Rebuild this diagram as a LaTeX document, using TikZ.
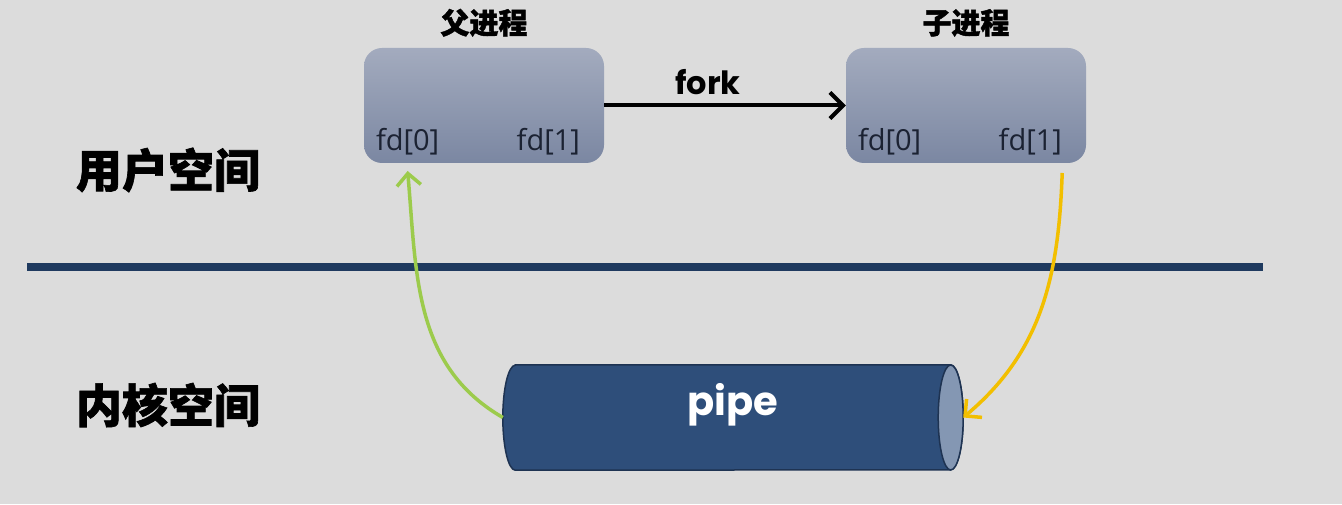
\documentclass[tikz,border=0pt]{standalone}
\usepackage{fontspec}
\setmainfont{Open Sans}
\newfontfamily\cjk{Noto Sans CJK SC}[BoldFeatures={FakeBold=1.4}]
\newfontfamily\popp{Poppins}
\usepackage{tikz}
\usetikzlibrary{arrows.meta,positioning}
\definecolor{bgc}{HTML}{DCDCDC}
\definecolor{boxtop}{HTML}{A3ABBE}
\definecolor{boxbot}{HTML}{7B87A2}
\definecolor{navy}{HTML}{1F3A5F}
\definecolor{pipec}{HTML}{2E4E7A}
\definecolor{pipedge}{HTML}{1E3352}
\definecolor{pipeend}{HTML}{8497B3}
\definecolor{greenc}{HTML}{9CCB4C}
\definecolor{yellc}{HTML}{F2BF00}
\definecolor{inkc}{HTML}{1B2232}
\tikzset{
  proc/.style={rounded corners=18pt,top color=boxtop,bottom color=boxbot,minimum width=240pt,minimum height=115pt},
  fd/.style={font=\fontsize{29}{32}\selectfont,text=inkc,inner sep=0pt},
  title/.style={font=\cjk\bfseries\fontsize{29}{32}\selectfont,inner sep=0pt},
  space/.style={font=\cjk\bfseries\fontsize{46}{50}\selectfont},
  ar/.style={-{Straight Barb[length=13pt,width=26pt]},line width=4pt},
  flow/.style={-{Straight Barb[length=12pt,width=24pt]},line width=3.5pt},
  pipecap/.style={x radius=12.5pt,y radius=52.5pt}
}
\begin{document}
\begin{tikzpicture}[x=1pt,y=1pt]
\useasboundingbox (0,0) rectangle (1342,504);
\fill[bgc] (0,0) rectangle (1342,504);
\node[proc] (par) at (484,398.5) {};
\node[proc] (chi) at (966,398.5) {};
\node[title,above=11pt of par] (parT) {父进程};
\node[title,above=11pt of chi] (chiT) {子进程};
\node[fd,anchor=base west] (p0) at ([shift={(12,13)}]par.south west) {fd[0]};
\node[fd,anchor=base east] (p1) at ([shift={(-24,13)}]par.south east) {fd[1]};
\node[fd,anchor=base west] (c0) at ([shift={(12,13)}]chi.south west) {fd[0]};
\node[fd,anchor=base east] (c1) at ([shift={(-24,13)}]chi.south east) {fd[1]};
\draw[ar] (par) -- (chi) node[midway,above=5pt,xshift=-17pt,font=\popp\bfseries\fontsize{32}{34}\selectfont] (forkL) {fork};
\draw[navy,line width=8pt] (27,237) -- (1263,237);
\node[space] (us) at (168,334) {用户空间};
\node[space] (ks) at (168,99) {内核空间};
\node[minimum width=460pt,minimum height=105pt,inner sep=0pt] (pipe) at (733,86.5) {};
\filldraw[fill=pipec,draw=pipedge,line width=1.5pt] ([xshift=12.5pt]pipe.north west) -- ([xshift=-12.5pt]pipe.north east)
  arc[start angle=90,end angle=-90,pipecap] -- ([xshift=12.5pt]pipe.south west) arc[start angle=270,end angle=90,pipecap] -- cycle;
\filldraw[fill=pipeend,draw=pipedge,line width=1.5pt] ([xshift=-12.5pt]pipe.east) ellipse[pipecap];
\node[text=white,font=\popp\bfseries\fontsize{40}{44}\selectfont] (pipeL) at ([yshift=13pt]pipe.center) {pipe};
\draw[flow,greenc] (pipe.west) to[out=150,in=-85] ([yshift=-16pt]p0.south);
\draw[flow,yellc] ([yshift=-18pt]c1.south east) to[out=-92,in=40] (pipe.east);
\end{tikzpicture}
\end{document}
